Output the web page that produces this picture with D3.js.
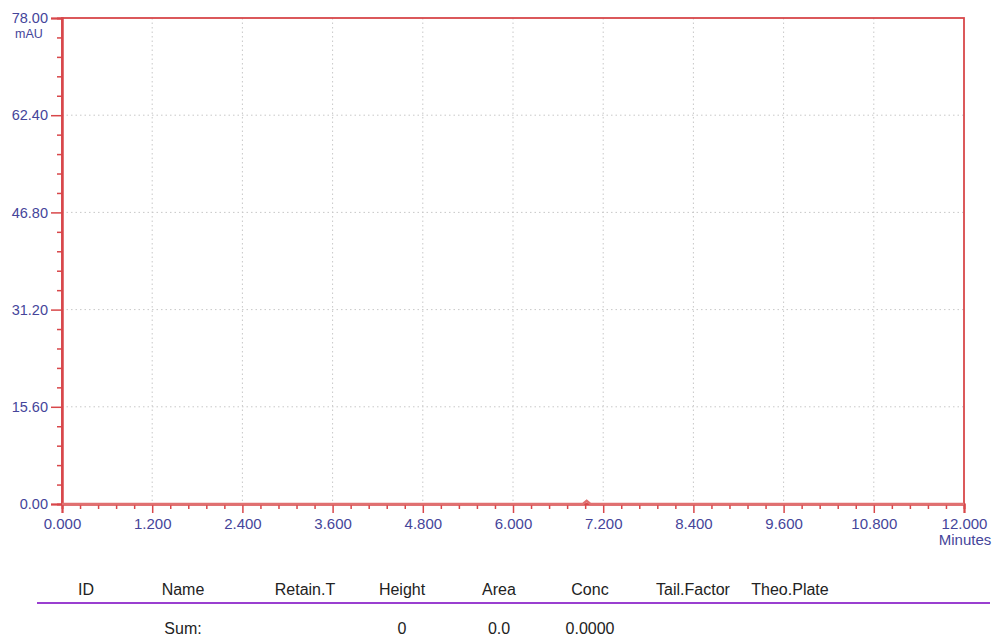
<!DOCTYPE html>
<html>
<head>
<meta charset="utf-8">
<script src="https://cdn.jsdelivr.net/npm/d3@7"></script>
<style>
  body { margin: 0; background: #fff; }
  svg { display: block; font-family: "Liberation Sans", Arial, sans-serif; }
</style>
</head>
<body>
<svg id="chart"></svg>
<script>
// chromatogram data (flat baseline)
var timeMin = [0, 1.2, 2.4, 3.6, 4.8, 6.0, 6.93, 6.98, 7.03, 8.4, 9.6, 10.8, 12.0];
var signalMAU = [0, 0, 0, 0, 0, 0, 0, 0.5, 0, 0, 0, 0, 0];
var xTicks = [0, 1.2, 2.4, 3.6, 4.8, 6.0, 7.2, 8.4, 9.6, 10.8, 12.0];
var yTicks = [0, 15.6, 31.2, 46.8, 62.4, 78.0];
var columns = ["ID", "Name", "Retain.T", "Height", "Area", "Conc", "Tail.Factor", "Theo.Plate"];
var sumRow = ["", "Sum:", "", "0", "0.0", "0.0000", "", ""];

var width = 995, height = 639;
var plotL = 62, plotR = 964, plotT = 18, plotB = 504;
var red = "#d8474a", blue = "#45459a";

var svg = d3.select('#chart').attr('width', width).attr('height', height);

var x = d3.scaleLinear().domain([0, 12]).range([plotL, plotR]);
var y = d3.scaleLinear().domain([0, 78]).range([plotB, plotT]);

// minor tick positions (5 per major interval)
var xMinor = d3.range(0, 50).map(function(i) { return i * 0.24; }).filter(function(v, i) { return i % 5 != 0; });
var yMinor = d3.range(0, 25).map(function(i) { return i * 3.12; }).filter(function(v, i) { return i % 5 != 0; });

// grid
svg.append('g').selectAll('line').data(xTicks.slice(1, -1)).enter().append('line')
    .attr('x1', function(d) { return x(d); }).attr('x2', function(d) { return x(d); })
    .attr('y1', plotT).attr('y2', plotB)
    .attr('stroke', '#c8c8c8').attr('stroke-dasharray', '1.5,3');
svg.append('g').selectAll('line').data(yTicks.slice(1, -1)).enter().append('line')
    .attr('y1', function(d) { return y(d); }).attr('y2', function(d) { return y(d); })
    .attr('x1', plotL).attr('x2', plotR)
    .attr('stroke', '#c8c8c8').attr('stroke-dasharray', '1.5,3');

// frame
svg.append('rect').attr('x', plotL).attr('y', plotT)
    .attr('width', plotR - plotL).attr('height', plotB - plotT)
    .attr('fill', 'none').attr('stroke', red).attr('stroke-width', 1.8);

// x axis
var xAxis = svg.append('g').attr('transform', 'translate(0,' + plotB + ')')
    .call(d3.axisBottom(x).tickValues(xTicks).tickFormat(d3.format('.3f')).tickSize(9).tickPadding(5));
svg.append('g').attr('transform', 'translate(0,' + plotB + ')')
    .call(d3.axisBottom(x).tickValues(xMinor).tickFormat('').tickSize(5));
xAxis.selectAll('text').style('font-size', '15px');

// y axis
var yAxis = svg.append('g').attr('transform', 'translate(' + plotL + ',0)')
    .call(d3.axisLeft(y).tickValues(yTicks).tickFormat(d3.format('.2f')).tickSize(11).tickPadding(3));
svg.append('g').attr('transform', 'translate(' + plotL + ',0)')
    .call(d3.axisLeft(y).tickValues(yMinor).tickFormat('').tickSize(5));
yAxis.selectAll('text').style('font-size', '14.5px');

svg.selectAll('.domain').attr('stroke', red).attr('stroke-width', 2);
svg.selectAll('.tick line').attr('stroke', red).attr('stroke-width', 1.5);
svg.selectAll('.tick text').attr('fill', blue);

// signal trace
svg.append('path').datum(timeMin)
    .attr('fill', 'none').attr('stroke', '#e07070').attr('stroke-width', 2.5)
    .attr('d', d3.line().x(function(d) { return x(d); }).y(function(d, i) { return y(signalMAU[i]); }));

// unit labels
svg.append('text').attr('x', 29).attr('y', 38).attr('text-anchor', 'middle')
    .attr('fill', blue).style('font-size', '12.5px').text('mAU');
svg.append('text').attr('x', 965).attr('y', 545).attr('text-anchor', 'middle')
    .attr('fill', blue).style('font-size', '15px').text('Minutes');

// results table
var colX = [86, 183, 305, 402, 499, 590, 693, 790];
svg.append('g').selectAll('text').data(columns).enter().append('text')
    .attr('x', function(d, i) { return colX[i]; }).attr('y', 595)
    .attr('text-anchor', 'middle').attr('fill', '#222').style('font-size', '16px')
    .text(function(d) { return d; });
svg.append('line').attr('x1', 37).attr('x2', 990).attr('y1', 603).attr('y2', 603)
    .attr('stroke', '#9a3fd0').attr('stroke-width', 2);
svg.append('g').selectAll('text').data(sumRow).enter().append('text')
    .attr('x', function(d, i) { return colX[i]; }).attr('y', 634)
    .attr('text-anchor', 'middle').attr('fill', '#222').style('font-size', '16px')
    .text(function(d) { return d; });
</script>
</body>
</html>
